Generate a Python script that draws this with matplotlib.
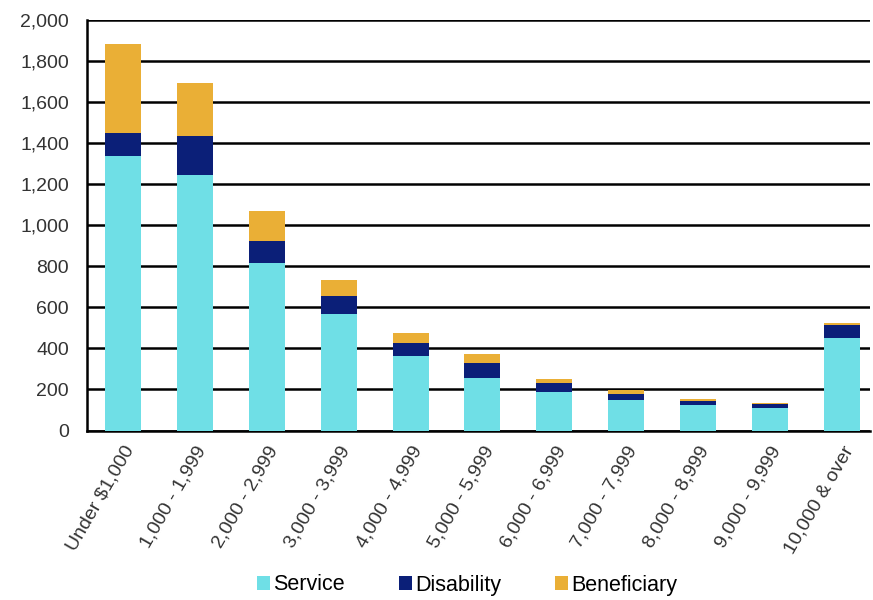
import numpy as np
import matplotlib.pyplot as plt

plt.rcParams['font.family'] = ['Liberation Sans', 'DejaVu Sans']

categories = ['Under $1,000', '1,000 - 1,999', '2,000 - 2,999', '3,000 - 3,999',
              '4,000 - 4,999', '5,000 - 5,999', '6,000 - 6,999', '7,000 - 7,999',
              '8,000 - 8,999', '9,000 - 9,999', '10,000 & over']
service = [1337, 1243, 816, 566, 365, 258, 190, 149, 124, 110, 451]
disability = [113, 193, 107, 91, 60, 73, 42, 31, 22, 20, 62]
beneficiary = [434, 256, 148, 75, 51, 41, 18, 17, 7, 5, 11]

fig = plt.figure(figsize=(8.73, 6), dpi=100)
ax = fig.add_axes([0.0997, 0.2825, 0.8968, 0.684])

x = np.arange(len(categories))
s = np.array(service)
d = np.array(disability)
b = np.array(beneficiary)

ax.bar(x, s, width=0.5, color='#6fdfe6', label='Service', zorder=3)
ax.bar(x, d, width=0.5, bottom=s, color='#0b1f78', label='Disability', zorder=3)
ax.bar(x, b, width=0.5, bottom=s + d, color='#eaaf36', label='Beneficiary', zorder=3)

ax.set_ylim(0, 2000)
ax.set_xlim(-0.5, 10.39)
ax.set_yticks(np.arange(0, 2001, 200))
ax.set_yticklabels([f'{v:,}' for v in range(0, 2001, 200)], fontsize=14, color='#333333')
ax.yaxis.grid(True, color='black', linewidth=1.8, zorder=0)
ax.tick_params(axis='y', length=0, pad=13)
ax.tick_params(axis='x', length=0, pad=9)

ax.set_xticks(x)
ax.set_xticklabels(categories, rotation=60, ha='right', rotation_mode='anchor',
                   fontsize=14, color='#333333')

for side in ['right', 'top']:
    ax.spines[side].set_visible(False)
ax.spines['bottom'].set_linewidth(1.8)
ax.spines['left'].set_linewidth(1.8)

fig.legend(loc='center', bbox_to_anchor=(0.535, 0.025), ncol=3, frameon=False,
           fontsize=15.5, handlelength=0.6, handleheight=0.6, handletextpad=0.15,
           columnspacing=2.5, borderpad=0)

fig.savefig('out.png', dpi=100)
